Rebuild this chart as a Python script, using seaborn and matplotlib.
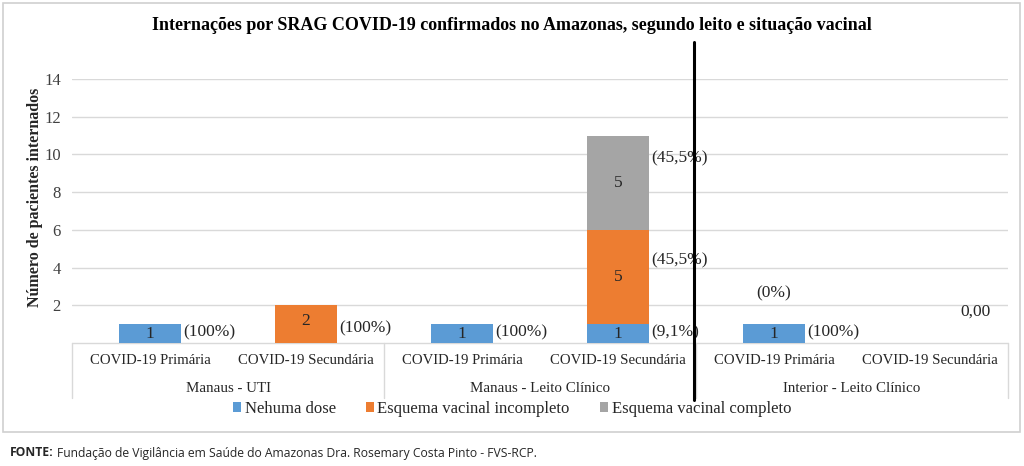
import numpy as np
import pandas as pd
import matplotlib
matplotlib.use("Agg")
import matplotlib.pyplot as plt
from matplotlib.patches import Patch, Rectangle
from matplotlib.lines import Line2D
import seaborn as sns

# ---------------- data ----------------
subcats = ["COVID-19 Primária", "COVID-19 Secundária"] * 3
groups = ["Manaus - UTI", "Manaus - Leito Clínico", "Interior - Leito Clínico"]
series = ["Nehuma dose", "Esquema vacinal incompleto", "Esquema vacinal completo"]
nehuma = [1, 0, 1, 1, 1, 0]
incompleto = [0, 2, 0, 5, 0, 0]
completo = [0, 0, 0, 5, 0, 0]
pct_nehuma = ["(100%)", None, "(100%)", "(9,1%)", "(100%)", None]
pct_incompleto = [None, "(100%)", None, "(45,5%)", "(0%)", None]
pct_completo = [None, None, None, "(45,5%)", None, "0,00"]
yticks = [2, 4, 6, 8, 10, 12, 14]

colors = ["#5B9BD5", "#ED7D31", "#A5A5A5"]

# ---------------- figure ----------------
sns.set_theme(style="white")
plt.rcParams["font.family"] = ["Liberation Serif", "DejaVu Serif"]

W, H = 1024, 466
fig = plt.figure(figsize=(W / 100, H / 100), dpi=100)
ax_l, ax_r, ax_t, ax_b = 72, 1008, 79, 343
ax = fig.add_axes([ax_l / W, 1 - ax_b / H, (ax_r - ax_l) / W, (ax_b - ax_t) / H])

idx = [f"c{i}" for i in range(len(subcats))]
df = pd.DataFrame({"cat": idx, "n": nehuma, "i": incompleto, "c": completo})
df["cum1"] = df["n"]
df["cum2"] = df["n"] + df["i"]
df["cum3"] = df["n"] + df["i"] + df["c"]

bw = 0.4
for col, colr in zip(["cum3", "cum2", "cum1"], colors[::-1]):
    sns.barplot(data=df, x="cat", y=col, color=colr, width=bw, ax=ax,
                saturation=1, linewidth=0, zorder=3)

ax.set_xlim(-0.5, len(subcats) - 0.5)
ax.set_ylim(0, 14)
ax.set_yticks(yticks)
ax.set_yticklabels([str(t) for t in yticks], fontsize=12, color="#404040")
ax.tick_params(axis="y", length=0, pad=8)
ax.set_xticks([])
ax.set_xlabel("")
ax.set_ylabel("Número de pacientes internados", fontsize=11.5, fontweight="bold")
ax.yaxis.set_label_coords((43 - ax_l) / (ax_r - ax_l), (ax_b - 197) / (ax_b - ax_t))
ax.grid(axis="y", color="#d9d9d9", linewidth=1, zorder=0)
for s in ax.spines.values():
    s.set_visible(False)

txt = dict(fontsize=12.5, color="#262626", zorder=4)

# value labels inside bars
for i in range(len(subcats)):
    b = 0
    for vals in (nehuma, incompleto, completo):
        v = vals[i]
        if v > 0:
            ax.text(i, b + v / 2 + (0.18 if v == 2 else 0), str(v), ha="center",
                    va="center", **txt)
        b += v

# percentage labels
xr = bw / 2 + 0.01
for i in range(len(subcats)):
    n, inc, c = nehuma[i], incompleto[i], completo[i]
    if pct_nehuma[i]:
        ax.text(i + xr, 0.55, pct_nehuma[i], ha="left", va="center", **txt)
    if pct_incompleto[i]:
        if inc > 0:
            y = n + inc * (0.68 if inc > 2 else 0.4)
            ax.text(i + xr, y, pct_incompleto[i], ha="left", va="center", **txt)
        else:
            ax.text(i, 2.65, pct_incompleto[i], ha="center", va="center", **txt)
    if pct_completo[i]:
        if c > 0:
            y = n + inc + c * 0.76
            ax.text(i + xr, y, pct_completo[i], ha="left", va="center", **txt)
        else:
            ax.text(i + 0.29, 1.64, pct_completo[i], ha="center", va="center", **txt)

# category table under the axis
trans = ax.get_xaxis_transform()
hpx = ax_b - ax_t
tb = -(398 - ax_b) / hpx
ax.plot([-0.5, len(subcats) - 0.5], [0, 0], color="#d9d9d9", lw=1,
        transform=trans, clip_on=False)
for xv in [-0.5, 1.5, 3.5, 5.5]:
    ax.plot([xv, xv], [0, tb], color="#d9d9d9", lw=1, transform=trans, clip_on=False)
for i, s in enumerate(subcats):
    ax.text(i, -(360 - ax_b) / hpx, s, ha="center", va="center",
            fontsize=10.6, color="#262626", transform=trans)
for g, name in enumerate(groups):
    ax.text(2 * g + 0.5, -(389 - ax_b) / hpx, name, ha="center",
            va="center", fontsize=10.8, color="#262626", transform=trans)

# title
fig.text(0.5, 1 - 25 / H, "Internações por SRAG COVID-19 confirmados no Amazonas, "
         "segundo leito e situação vacinal", ha="center", va="center",
         fontsize=13, fontweight="bold", color="#000000")

# legend
handles = [Patch(facecolor=c, edgecolor="none") for c in colors]
fig.legend(handles, series, loc="center", bbox_to_anchor=(0.5, 1 - 409 / H),
           ncol=3, frameon=False, fontsize=12, handlelength=0.5,
           handleheight=0.5, handletextpad=0.2, columnspacing=1.8,
           labelcolor="#262626")

# black vertical separator
fig.add_artist(Line2D([694 / W, 694 / W], [1 - 42 / H, 1 - 400 / H],
                      color="black", lw=2.2))

# outer frame
fig.add_artist(Rectangle((3 / W, 1 - 432 / H), 1017 / W, 429 / H,
                         fill=False, edgecolor="#d0d0d0", lw=1.2))

# footer
ffam = ["Open Sans", "DejaVu Sans"]
t1 = fig.text(10 / W, 1 - 453 / H, "FONTE:", ha="left", va="center", fontsize=8.7,
              fontweight="bold", family=ffam)
fig.canvas.draw()
bb = t1.get_window_extent()
fig.text((bb.x1 + 3) / W, 1 - 453 / H,
         "Fundação de Vigilância em Saúde do Amazonas Dra. Rosemary Costa Pinto - FVS-RCP.",
         ha="left", va="center", fontsize=8.7, family=ffam)

fig.savefig("out.png", dpi=100)
